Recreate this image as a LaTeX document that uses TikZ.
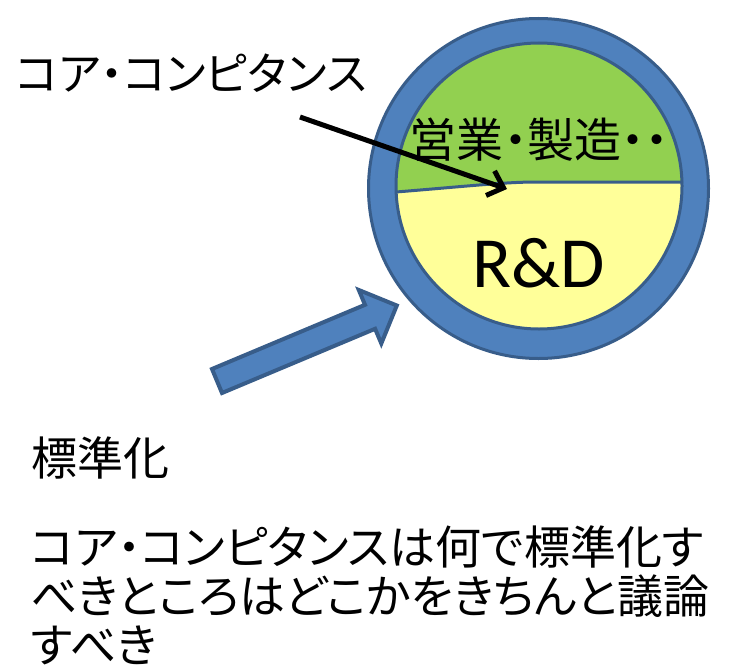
\documentclass[tikz,border=0pt]{standalone}
\usepackage{fontspec}
\setmainfont{Noto Sans CJK JP}[RawFeature={+palt}]
\newfontfamily\latinfont{Carlito}
\usetikzlibrary{arrows.meta}
\definecolor{ringblue}{HTML}{4F81BD}
\definecolor{ringedge}{HTML}{385D8A}
\definecolor{topgreen}{HTML}{92D050}
\definecolor{lowyellow}{HTML}{FFFF99}
\tikzset{
  jtext/.style={inner sep=0pt, font=\fontsize{46}{49}\selectfont, text=black},
  edgeline/.style={draw=ringedge, line width=3pt},
  pointer/.style={draw=black, line width=5pt, -{Straight Barb[length=14pt,width=26pt]}},
}
\begin{document}
\begin{tikzpicture}[x=1pt,y=-1pt]
\useasboundingbox[fill=white] (0,0) rectangle (730,669);
% outer ring
\fill[ringblue] (538.5,188.5) circle[radius=170pt];
\draw[edgeline] (538.5,188.5) circle[radius=170pt];
% inner halves
\begin{scope}
  \clip (539,186) circle[radius=143pt];
  \fill[lowyellow] (380,20) rectangle (700,340);
  \fill[topgreen] (380,192) -- (396,192) .. controls (470,186) and (505,182) .. (537,182) -- (700,182) -- (700,20) -- (380,20) -- cycle;
\end{scope}
\draw[edgeline] (396,192) .. controls (470,186) and (505,182) .. (537,182) -- (683,182);
\draw[edgeline] (539,186) circle[radius=143pt];
% block arrow
\draw[draw=ringedge, fill=ringblue, line width=4pt, line join=miter]
  (212.0,369.0) -- (365.0,304.8) -- (358.8,290.0) -- (396.8,305.5)
  -- (381.3,343.5) -- (375.1,328.8) -- (222.0,393.0) -- cycle;
% texts
\node[jtext, font=\fontsize{45}{49}\selectfont, anchor=base west] (cclabel) at (16,90) {コア・コンピタンス};
\node[jtext, font=\fontsize{47}{49}\selectfont, anchor=base] (biz) at (539,157) {営業・製造・・};
\node[inner sep=0pt, font=\latinfont\fontsize{72}{80}\selectfont, anchor=base] (rd) at (539,287) {R\&D};
\node[jtext, anchor=base west] (std) at (31,475) {標準化};
\node[jtext, anchor=base west, align=left] (para) at (31,662)
  {コア・コンピタンスは何で標準化す\\べきところはどこかをきちんと議論\\すべき};
% pointer arrow
\coordinate (ccfrom) at (300,117);
\coordinate (cctip) at (507,189);
\draw[pointer] (ccfrom) -- (cctip);
\end{tikzpicture}
\end{document}
